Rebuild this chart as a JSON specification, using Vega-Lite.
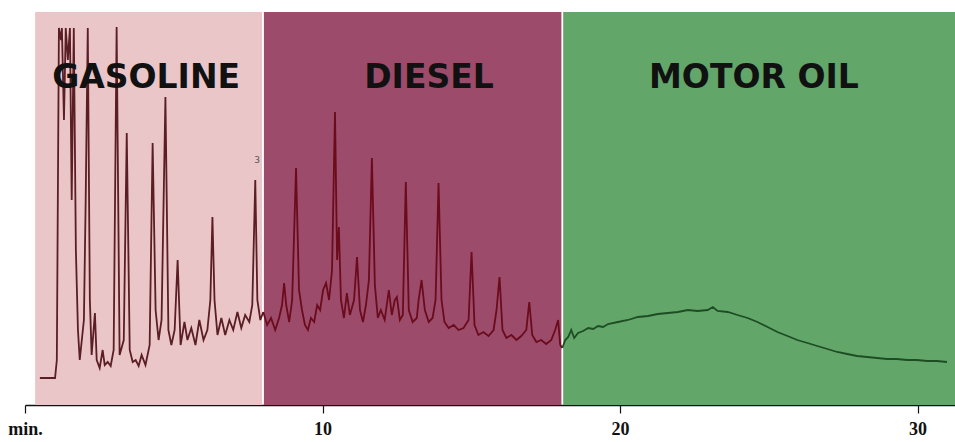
{
  "$schema": "https://vega.github.io/schema/vega-lite/v6.json",
  "width": 930,
  "height": 393,
  "autosize": {"type": "none"},
  "padding": {"left": 25, "top": 12, "right": 0, "bottom": 37},
  "background": "white",
  "config": {"view": {"stroke": null}},
  "datasets": {
    "zones": [
      {"fraction": "Gasoline", "start": 0.34, "end": 7.97, "label": "GASOLINE", "mid": 4.07},
      {"fraction": "Diesel", "start": 8.03, "end": 18.03, "label": "DIESEL", "mid": 13.58},
      {"fraction": "Motor oil", "start": 18.09, "end": 31.26, "label": "MOTOR OIL", "mid": 24.5}
    ],
    "signal": [
      {"f":"Gasoline","t":0.50,"v":26},{"f":"Gasoline","t":1.01,"v":26},{"f":"Gasoline","t":1.07,"v":44},{"f":"Gasoline","t":1.14,"v":376},{"f":"Gasoline","t":1.21,"v":364},{"f":"Gasoline","t":1.24,"v":376},{"f":"Gasoline","t":1.31,"v":284},{"f":"Gasoline","t":1.37,"v":376},{"f":"Gasoline","t":1.44,"v":344},{"f":"Gasoline","t":1.51,"v":376},{"f":"Gasoline","t":1.57,"v":204},{"f":"Gasoline","t":1.64,"v":376},{"f":"Gasoline","t":1.71,"v":154},{"f":"Gasoline","t":1.78,"v":74},{"f":"Gasoline","t":1.84,"v":44},{"f":"Gasoline","t":1.91,"v":64},{"f":"Gasoline","t":1.98,"v":84},{"f":"Gasoline","t":2.04,"v":204},{"f":"Gasoline","t":2.11,"v":376},{"f":"Gasoline","t":2.18,"v":104},{"f":"Gasoline","t":2.24,"v":49},{"f":"Gasoline","t":2.35,"v":91},{"f":"Gasoline","t":2.41,"v":44},{"f":"Gasoline","t":2.51,"v":36},{"f":"Gasoline","t":2.61,"v":54},{"f":"Gasoline","t":2.68,"v":39},{"f":"Gasoline","t":2.78,"v":42},{"f":"Gasoline","t":2.88,"v":38},{"f":"Gasoline","t":2.98,"v":54},{"f":"Gasoline","t":3.08,"v":377},{"f":"Gasoline","t":3.18,"v":49},{"f":"Gasoline","t":3.32,"v":64},{"f":"Gasoline","t":3.42,"v":271},{"f":"Gasoline","t":3.52,"v":54},{"f":"Gasoline","t":3.62,"v":42},{"f":"Gasoline","t":3.72,"v":44},{"f":"Gasoline","t":3.82,"v":38},{"f":"Gasoline","t":3.92,"v":49},{"f":"Gasoline","t":4.05,"v":39},{"f":"Gasoline","t":4.19,"v":59},{"f":"Gasoline","t":4.29,"v":261},{"f":"Gasoline","t":4.39,"v":94},{"f":"Gasoline","t":4.49,"v":64},{"f":"Gasoline","t":4.59,"v":84},{"f":"Gasoline","t":4.72,"v":307},{"f":"Gasoline","t":4.82,"v":74},{"f":"Gasoline","t":4.92,"v":59},{"f":"Gasoline","t":5.03,"v":74},{"f":"Gasoline","t":5.13,"v":144},{"f":"Gasoline","t":5.23,"v":59},{"f":"Gasoline","t":5.36,"v":82},{"f":"Gasoline","t":5.46,"v":64},{"f":"Gasoline","t":5.59,"v":76},{"f":"Gasoline","t":5.73,"v":59},{"f":"Gasoline","t":5.86,"v":84},{"f":"Gasoline","t":6.00,"v":64},{"f":"Gasoline","t":6.13,"v":74},{"f":"Gasoline","t":6.23,"v":104},{"f":"Gasoline","t":6.30,"v":187},{"f":"Gasoline","t":6.37,"v":104},{"f":"Gasoline","t":6.47,"v":69},{"f":"Gasoline","t":6.60,"v":86},{"f":"Gasoline","t":6.73,"v":69},{"f":"Gasoline","t":6.87,"v":84},{"f":"Gasoline","t":7.00,"v":74},{"f":"Gasoline","t":7.14,"v":92},{"f":"Gasoline","t":7.27,"v":76},{"f":"Gasoline","t":7.40,"v":89},{"f":"Gasoline","t":7.54,"v":82},{"f":"Gasoline","t":7.64,"v":99},{"f":"Gasoline","t":7.74,"v":224},{"f":"Gasoline","t":7.81,"v":104},{"f":"Gasoline","t":7.91,"v":84},{"f":"Gasoline","t":8.01,"v":92},
      {"f":"Diesel","t":8.01,"v":92},{"f":"Diesel","t":8.14,"v":79},{"f":"Diesel","t":8.27,"v":86},{"f":"Diesel","t":8.41,"v":74},{"f":"Diesel","t":8.54,"v":86},{"f":"Diesel","t":8.64,"v":99},{"f":"Diesel","t":8.71,"v":121},{"f":"Diesel","t":8.78,"v":99},{"f":"Diesel","t":8.88,"v":82},{"f":"Diesel","t":8.98,"v":104},{"f":"Diesel","t":9.11,"v":236},{"f":"Diesel","t":9.21,"v":114},{"f":"Diesel","t":9.31,"v":94},{"f":"Diesel","t":9.41,"v":79},{"f":"Diesel","t":9.51,"v":74},{"f":"Diesel","t":9.61,"v":86},{"f":"Diesel","t":9.72,"v":82},{"f":"Diesel","t":9.82,"v":99},{"f":"Diesel","t":9.92,"v":94},{"f":"Diesel","t":10.02,"v":114},{"f":"Diesel","t":10.12,"v":121},{"f":"Diesel","t":10.22,"v":104},{"f":"Diesel","t":10.32,"v":134},{"f":"Diesel","t":10.42,"v":292},{"f":"Diesel","t":10.49,"v":144},{"f":"Diesel","t":10.55,"v":177},{"f":"Diesel","t":10.62,"v":104},{"f":"Diesel","t":10.72,"v":86},{"f":"Diesel","t":10.82,"v":111},{"f":"Diesel","t":10.92,"v":89},{"f":"Diesel","t":11.06,"v":104},{"f":"Diesel","t":11.16,"v":147},{"f":"Diesel","t":11.26,"v":94},{"f":"Diesel","t":11.36,"v":82},{"f":"Diesel","t":11.46,"v":99},{"f":"Diesel","t":11.56,"v":124},{"f":"Diesel","t":11.66,"v":246},{"f":"Diesel","t":11.76,"v":119},{"f":"Diesel","t":11.86,"v":86},{"f":"Diesel","t":11.96,"v":94},{"f":"Diesel","t":12.09,"v":84},{"f":"Diesel","t":12.23,"v":114},{"f":"Diesel","t":12.33,"v":89},{"f":"Diesel","t":12.43,"v":104},{"f":"Diesel","t":12.50,"v":107},{"f":"Diesel","t":12.60,"v":84},{"f":"Diesel","t":12.70,"v":89},{"f":"Diesel","t":12.80,"v":222},{"f":"Diesel","t":12.90,"v":94},{"f":"Diesel","t":13.03,"v":82},{"f":"Diesel","t":13.17,"v":86},{"f":"Diesel","t":13.23,"v":104},{"f":"Diesel","t":13.33,"v":124},{"f":"Diesel","t":13.44,"v":94},{"f":"Diesel","t":13.57,"v":82},{"f":"Diesel","t":13.70,"v":86},{"f":"Diesel","t":13.80,"v":104},{"f":"Diesel","t":13.90,"v":221},{"f":"Diesel","t":14.00,"v":104},{"f":"Diesel","t":14.10,"v":82},{"f":"Diesel","t":14.24,"v":76},{"f":"Diesel","t":14.41,"v":79},{"f":"Diesel","t":14.57,"v":74},{"f":"Diesel","t":14.74,"v":76},{"f":"Diesel","t":14.91,"v":84},{"f":"Diesel","t":15.01,"v":152},{"f":"Diesel","t":15.11,"v":79},{"f":"Diesel","t":15.24,"v":69},{"f":"Diesel","t":15.41,"v":72},{"f":"Diesel","t":15.58,"v":68},{"f":"Diesel","t":15.75,"v":74},{"f":"Diesel","t":15.85,"v":94},{"f":"Diesel","t":15.95,"v":127},{"f":"Diesel","t":16.05,"v":74},{"f":"Diesel","t":16.18,"v":66},{"f":"Diesel","t":16.35,"v":69},{"f":"Diesel","t":16.52,"v":64},{"f":"Diesel","t":16.68,"v":68},{"f":"Diesel","t":16.85,"v":74},{"f":"Diesel","t":16.95,"v":102},{"f":"Diesel","t":17.05,"v":69},{"f":"Diesel","t":17.19,"v":62},{"f":"Diesel","t":17.35,"v":64},{"f":"Diesel","t":17.52,"v":60},{"f":"Diesel","t":17.69,"v":64},{"f":"Diesel","t":17.82,"v":74},{"f":"Diesel","t":17.92,"v":84},{"f":"Diesel","t":17.99,"v":59},{"f":"Diesel","t":18.06,"v":56},
      {"f":"Motor oil","t":18.06,"v":56},{"f":"Motor oil","t":18.16,"v":64},{"f":"Motor oil","t":18.26,"v":67},{"f":"Motor oil","t":18.36,"v":74},{"f":"Motor oil","t":18.46,"v":66},{"f":"Motor oil","t":18.59,"v":71},{"f":"Motor oil","t":18.76,"v":73},{"f":"Motor oil","t":18.93,"v":76},{"f":"Motor oil","t":19.10,"v":75},{"f":"Motor oil","t":19.26,"v":78},{"f":"Motor oil","t":19.43,"v":77},{"f":"Motor oil","t":19.60,"v":80},{"f":"Motor oil","t":19.93,"v":82},{"f":"Motor oil","t":20.27,"v":84},{"f":"Motor oil","t":20.60,"v":87},{"f":"Motor oil","t":20.94,"v":88},{"f":"Motor oil","t":21.27,"v":90},{"f":"Motor oil","t":21.61,"v":91},{"f":"Motor oil","t":21.94,"v":92},{"f":"Motor oil","t":22.28,"v":94},{"f":"Motor oil","t":22.61,"v":93},{"f":"Motor oil","t":22.95,"v":94},{"f":"Motor oil","t":23.12,"v":97},{"f":"Motor oil","t":23.28,"v":93},{"f":"Motor oil","t":23.62,"v":92},{"f":"Motor oil","t":23.95,"v":89},{"f":"Motor oil","t":24.29,"v":86},{"f":"Motor oil","t":24.62,"v":82},{"f":"Motor oil","t":24.96,"v":77},{"f":"Motor oil","t":25.29,"v":72},{"f":"Motor oil","t":25.63,"v":68},{"f":"Motor oil","t":25.96,"v":64},{"f":"Motor oil","t":26.30,"v":61},{"f":"Motor oil","t":26.63,"v":58},{"f":"Motor oil","t":26.97,"v":55},{"f":"Motor oil","t":27.30,"v":52},{"f":"Motor oil","t":27.64,"v":50},{"f":"Motor oil","t":27.97,"v":48},{"f":"Motor oil","t":28.31,"v":47},{"f":"Motor oil","t":28.64,"v":46},{"f":"Motor oil","t":28.98,"v":45},{"f":"Motor oil","t":29.31,"v":45},{"f":"Motor oil","t":29.65,"v":44},{"f":"Motor oil","t":29.98,"v":44},{"f":"Motor oil","t":30.32,"v":43},{"f":"Motor oil","t":30.65,"v":43},{"f":"Motor oil","t":30.99,"v":42}
    ],
    "marks": [{"t": 7.8, "v": 244, "txt": "3"}]
  },
  "layer": [
    {
      "data": {"name": "zones"},
      "mark": {"type": "rect"},
      "encoding": {
        "x": {"field": "start", "type": "quantitative", "scale": {"domain": [0, 31.26], "nice": false, "zero": false},
              "axis": {"values": [0, 10, 20, 30], "labelExpr": "datum.value == 0 ? 'min.' : datum.label", "grid": false, "title": null,
                       "domainColor": "#111", "domainWidth": 1.5, "tickColor": "#111", "tickWidth": 1.2, "tickSize": 8,
                       "labelFont": "Liberation Serif", "labelFontWeight": "bold", "labelFontSize": 18, "labelColor": "#111", "labelPadding": 7, "labelFlush": false}},
        "x2": {"field": "end"},
        "y": {"datum": -1, "type": "quantitative", "scale": {"domain": [-1, 392], "nice": false, "zero": false}, "axis": null},
        "y2": {"datum": 392},
        "fill": {"field": "fraction", "type": "nominal", "legend": null,
                 "scale": {"domain": ["Gasoline", "Diesel", "Motor oil"], "range": ["#eac6c8", "#9d4b6b", "#62a669"]}}
      }
    },
    {
      "data": {"name": "signal"},
      "mark": {"type": "line", "strokeWidth": 1.8, "interpolate": "linear"},
      "encoding": {
        "x": {"field": "t", "type": "quantitative"},
        "y": {"field": "v", "type": "quantitative"},
        "stroke": {"field": "f", "type": "nominal", "legend": null,
                   "scale": {"domain": ["Gasoline", "Diesel", "Motor oil"], "range": ["#5a1e24", "#6a0c1c", "#1e4d24"]}}
      }
    },
    {
      "data": {"name": "zones"},
      "mark": {"type": "text", "font": "DejaVu Sans", "fontWeight": "bold", "fontSize": 33, "color": "#111", "baseline": "middle", "align": "center"},
      "encoding": {
        "x": {"field": "mid", "type": "quantitative"},
        "y": {"datum": 326, "type": "quantitative"},
        "text": {"field": "label"}
      }
    },
    {
      "data": {"name": "marks"},
      "mark": {"type": "text", "font": "DejaVu Sans", "fontSize": 9, "color": "#555", "baseline": "middle", "align": "center"},
      "encoding": {
        "x": {"field": "t", "type": "quantitative"},
        "y": {"field": "v", "type": "quantitative"},
        "text": {"field": "txt"}
      }
    }
  ]
}
